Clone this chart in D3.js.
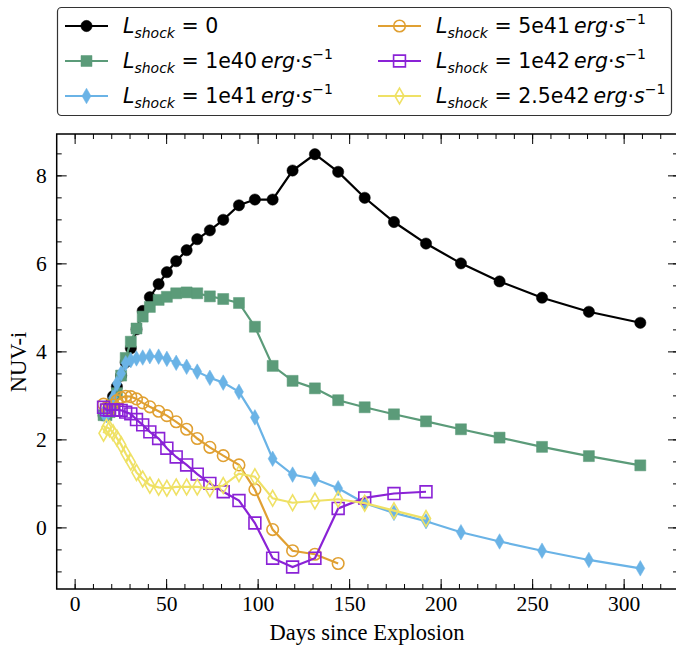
<!DOCTYPE html>
<html>
<head>
<meta charset="utf-8">
<script src="https://cdn.jsdelivr.net/npm/d3@7"></script>
<style>
  body { margin: 0; background: #fff; }
  svg { display: block; }
</style>
</head>
<body>
<svg id="chart"></svg>
<script>

/////////////////////////////////
// DATA
//////////////////////////////////

var days = [15.8, 17.4, 19.1, 21.0, 23.1, 25.4, 27.9, 30.7, 33.8, 37.2, 41.1, 45.9, 50.4, 55.5, 61.2, 67.0,
            73.9, 81.2, 89.8, 98.5, 108.2, 119.1, 131.3, 144.0, 158.5, 174.5, 192.0, 211.1, 232.2, 255.4, 281.0, 309.1];

var lum0 = [2.55, 2.62, 2.78, 2.98, 3.20, 3.45, 3.75, 4.07, 4.50, 4.92, 5.23, 5.53, 5.80, 6.05, 6.30, 6.55,
            6.75, 6.99, 7.32, 7.45, 7.45, 8.11, 8.48, 8.08, 7.49, 6.94, 6.45, 6.00, 5.59, 5.22, 4.90, 4.65];

var lum1e40 = [2.55, 2.55, 2.62, 2.80, 3.05, 3.45, 3.85, 4.22, 4.52, 4.79, 5.01, 5.17, 5.24, 5.32, 5.34, 5.32,
               5.25, 5.19, 5.10, 4.56, 3.67, 3.33, 3.16, 2.89, 2.73, 2.57, 2.41, 2.23, 2.04, 1.83, 1.62, 1.41];

var lum1e41 = [2.60, 2.55, 2.70, 2.95, 3.27, 3.50, 3.73, 3.80, 3.84, 3.86, 3.89, 3.88, 3.83, 3.74, 3.65, 3.54,
               3.40, 3.29, 3.08, 2.50, 1.56, 1.20, 1.10, 0.89, 0.55, 0.33, 0.14, -0.11, -0.32, -0.53, -0.74, -0.93];

var lum5e41 = [2.80, 2.72, 2.68, 2.78, 2.88, 2.95, 2.98, 2.97, 2.92, 2.83, 2.74, 2.64, 2.54, 2.40, 2.23, 2.02,
               1.82, 1.63, 1.42, 0.86, -0.05, -0.53, -0.61, -0.82];

var lum1e42 = [2.73, 2.67, 2.66, 2.67, 2.67, 2.66, 2.62, 2.58, 2.45, 2.33, 2.17, 2.02, 1.80, 1.60, 1.42, 1.21,
               1.00, 0.81, 0.61, 0.10, -0.70, -0.90, -0.70, 0.43, 0.67, 0.77, 0.81];

var lum25e42 = [2.14, 2.28, 2.24, 2.15, 2.03, 1.88, 1.68, 1.48, 1.25, 1.10, 0.96, 0.91, 0.89, 0.92, 0.92, 0.92,
                0.88, 0.95, 1.22, 1.15, 0.66, 0.56, 0.60, 0.64, 0.55, 0.38, 0.20];

var labels = ["0", "1e40", "1e41", "5e41", "1e42", "2.5e42"];

var xTicks = [0, 50, 100, 150, 200, 250, 300];
var yTicks = [0, 2, 4, 6, 8];


/////////////////////////////////
// SET STATIC VARIABLES
//////////////////////////////////

var width = 676;
var height = 650;

var margin = { left: 56.7, right: 678, top: 134, bottom: 589 };

var svg = d3.select("#chart")
    .attr("width", width)
    .attr("height", height);

var x = d3.scaleLinear().domain([-9.8, 329.7]).range([margin.left, margin.right]);
var y = d3.scaleLinear().domain([-1.40, 8.94]).range([margin.bottom, margin.top]);

var series = [
    { values: lum0,     color: "#000000", shape: d3.symbolCircle,  size: 100, filled: true },
    { values: lum1e40,  color: "#5b9b79", shape: d3.symbolSquare,  size: 121, filled: true },
    { values: lum1e41,  color: "#6ab3e6", shape: d3.symbolDiamond, size: 70,  filled: true },
    { values: lum5e41,  color: "#e0a032", shape: d3.symbolCircle,  size: 105, filled: false },
    { values: lum1e42,  color: "#8a22d6", shape: d3.symbolSquare,  size: 140, filled: false },
    { values: lum25e42, color: "#efe165", shape: d3.symbolDiamond, size: 72,  filled: false }
];


/////////////////////////////////
// AXES
//////////////////////////////////

var serif = "'Liberation Serif', 'Times New Roman', serif";

function styleAxis(g) {
    g.select(".domain").remove();
    g.selectAll(".tick line").attr("stroke", "#000").attr("stroke-width", 1);
    g.selectAll("text").attr("font-family", serif).attr("font-size", 21.5).attr("fill", "#000");
}

var minorX = d3.range(-0, 330, 10);
var minorY = d3.range(-1, 9, 0.5);

// bottom
svg.append("g").attr("transform", "translate(0," + margin.bottom + ")")
    .call(d3.axisBottom(x).tickValues(minorX).tickSize(-5).tickFormat(""))
    .call(styleAxis);
svg.append("g").attr("transform", "translate(0," + margin.bottom + ")")
    .call(d3.axisBottom(x).tickValues(xTicks).tickSize(-10).tickPadding(7).tickFormat(d3.format("d")))
    .call(styleAxis);
// top
svg.append("g").attr("transform", "translate(0," + margin.top + ")")
    .call(d3.axisTop(x).tickValues(minorX).tickSize(-5).tickFormat(""))
    .call(styleAxis);
svg.append("g").attr("transform", "translate(0," + margin.top + ")")
    .call(d3.axisTop(x).tickValues(xTicks).tickSize(-10).tickFormat(""))
    .call(styleAxis);
// left
svg.append("g").attr("transform", "translate(" + margin.left + ",0)")
    .call(d3.axisLeft(y).tickValues(minorY).tickSize(-5).tickFormat(""))
    .call(styleAxis);
svg.append("g").attr("transform", "translate(" + margin.left + ",0)")
    .call(d3.axisLeft(y).tickValues(yTicks).tickSize(-10).tickPadding(10).tickFormat(d3.format("d")))
    .call(styleAxis);
// right
svg.append("g").attr("transform", "translate(" + margin.right + ",0)")
    .call(d3.axisRight(y).tickValues(minorY).tickSize(-5).tickFormat(""))
    .call(styleAxis);
svg.append("g").attr("transform", "translate(" + margin.right + ",0)")
    .call(d3.axisRight(y).tickValues(yTicks).tickSize(-10).tickFormat(""))
    .call(styleAxis);

// frame
svg.append("rect")
    .attr("x", margin.left).attr("y", margin.top)
    .attr("width", margin.right - margin.left).attr("height", margin.bottom - margin.top)
    .attr("fill", "none").attr("stroke", "#000").attr("stroke-width", 1.5);

// axis titles
svg.append("text")
    .attr("x", 367).attr("y", 640)
    .attr("text-anchor", "middle")
    .attr("font-family", serif).attr("font-size", 22.5)
    .text("Days since Explosion");

svg.append("text")
    .attr("transform", "translate(26," + 362 + ") rotate(-90)")
    .attr("text-anchor", "middle")
    .attr("font-family", serif).attr("font-size", 22.5)
    .text("NUV-i");


/////////////////////////////////
// DRAW THE LINES
//////////////////////////////////

var line = d3.line()
    .x(function(d, i) { return x(days[i]); })
    .y(function(d) { return y(d); });

var plot = svg.append("g");

series.forEach(function(s) {
    var g = plot.append("g");
    g.append("path")
        .attr("d", line(s.values))
        .attr("fill", "none")
        .attr("stroke", s.color)
        .attr("stroke-width", 2.2);
    g.selectAll("path.mark")
        .data(s.values)
        .enter().append("path")
        .attr("class", "mark")
        .attr("transform", function(d, i) { return "translate(" + x(days[i]) + "," + y(d) + ")"; })
        .attr("d", d3.symbol().type(s.shape).size(s.size))
        .attr("fill", s.filled ? s.color : "none")
        .attr("stroke", s.color)
        .attr("stroke-width", s.filled ? 0.5 : 1.6);
});


/////////////////////////////////
// LEGEND
//////////////////////////////////

var sans = "'DejaVu Sans', sans-serif";
var legend = svg.append("g");

legend.append("rect")
    .attr("x", 57.5).attr("y", 7.5)
    .attr("width", 614).attr("height", 108)
    .attr("rx", 4)
    .attr("fill", "#fff").attr("stroke", "#333").attr("stroke-width", 1.2);

var legendPos = [[65, 26], [65, 61], [65, 96], [378, 26], [378, 61], [378, 96]];

series.forEach(function(s, i) {
    var lx = legendPos[i][0], ly = legendPos[i][1];
    legend.append("line")
        .attr("x1", lx).attr("x2", lx + 43)
        .attr("y1", ly).attr("y2", ly)
        .attr("stroke", s.color).attr("stroke-width", 2.2);
    legend.append("path")
        .attr("transform", "translate(" + (lx + 21.5) + "," + ly + ")")
        .attr("d", d3.symbol().type(s.shape).size(s.size))
        .attr("fill", s.filled ? s.color : "none")
        .attr("stroke", s.color)
        .attr("stroke-width", s.filled ? 0.5 : 1.6);

    var t = legend.append("text")
        .attr("x", lx + 58).attr("y", ly + 7)
        .attr("font-family", sans).attr("font-size", 20.5);
    t.append("tspan").attr("font-style", "italic").text("L");
    t.append("tspan").attr("font-style", "italic").attr("font-size", 14).attr("dy", 5).text("shock");
    t.append("tspan").attr("dy", -5).text(" = " + labels[i]);
    if (i > 0) {
        t.append("tspan").attr("font-style", "italic").attr("dx", 4).text("erg");
        t.append("tspan").text("·");
        t.append("tspan").attr("font-style", "italic").text("s");
        t.append("tspan").attr("font-size", 14).attr("dy", -9).text("−1");
    }
});

</script>
</body>
</html>
